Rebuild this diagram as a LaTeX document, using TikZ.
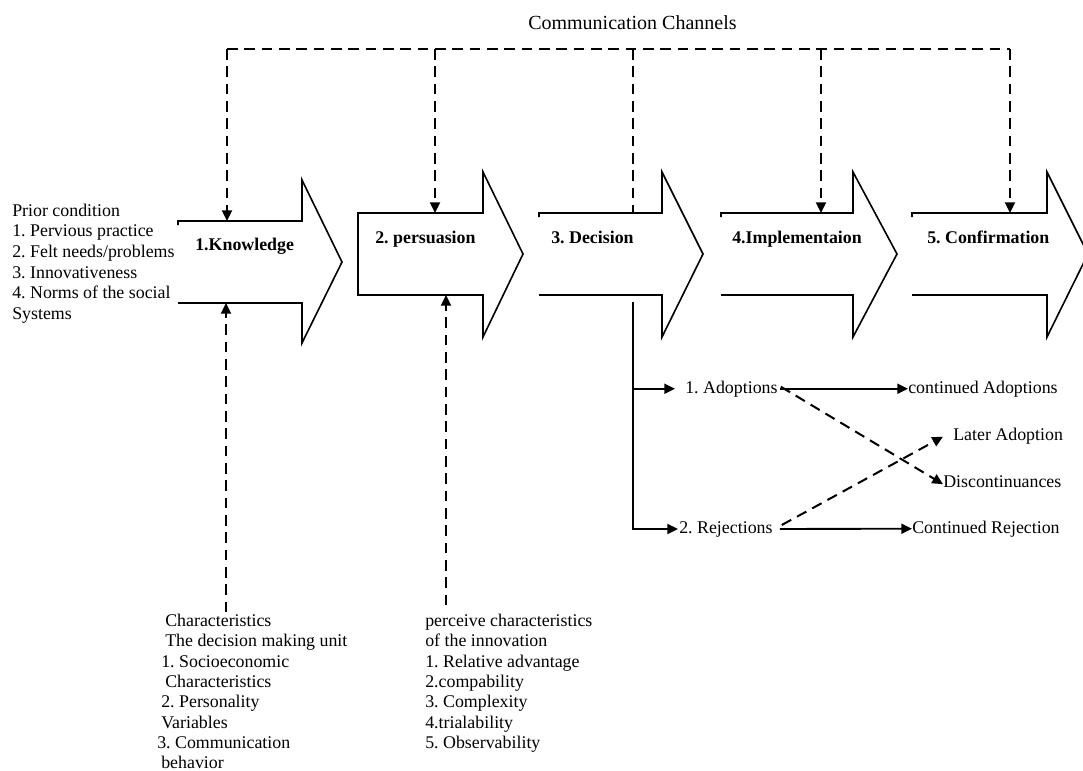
\documentclass[tikz,border=0pt]{standalone}
\usepackage{fontspec}
\setmainfont{Liberation Serif}
\usetikzlibrary{arrows.meta,calc}
\newcommand{\diagfs}{\fontsize{13.4}{16}\selectfont\frenchspacing}
\newcommand{\diagtitlefs}{\fontsize{15}{18}\selectfont}
\begin{document}
\frenchspacing
\begin{tikzpicture}[x=0.75pt,y=-0.75pt,
  stage/.style={line width=1.2pt, line join=miter},
  cdash/.style={line width=1.5pt, dash pattern=on 8pt off 5pt},
  tip/.style={-{Triangle[length=8pt,width=7.5pt]}},
  sol/.style={line width=1.4pt},
  txt/.style={anchor=base west, inner sep=0pt, font=\diagfs},
  lbl/.style={anchor=base west, inner sep=0pt, font=\diagfs\bfseries}]
\fill[white] (0,0) rectangle (1083,771);
\clip (0,0) rectangle (1083,771);

% stage arrows
\draw[stage] (178,225) -- (178,221) -- (302,221) -- (302,180) -- (342,262) -- (302,343) -- (302,303) -- (178,303);
\draw[stage] (358,213) -- (483,213) -- (483,172) -- (523,254) -- (483,337) -- (483,295) -- (358,295) -- cycle;
\draw[stage] (539,217) -- (539,213) -- (662,213) -- (662,172) -- (703,254) -- (662,337) -- (662,295) -- (539,295);
\draw[stage] (721,217) -- (721,213) -- (853,213) -- (853,172) -- (897,254) -- (853,337) -- (853,295) -- (721,295);
\draw[stage] (912,217) -- (912,213) -- (1047,213) -- (1047,172) -- (1088,254) -- (1047,337) -- (1047,295) -- (912,295);

\coordinate (k1t) at (227,221);
\coordinate (k1b) at (226,303);
\coordinate (p2t) at (435,213);
\coordinate (p2b) at (446,295);
\coordinate (d3t) at (633,213);
\coordinate (d3b) at (633,302);
\coordinate (i4t) at (821,213);
\coordinate (c5t) at (1010,213);
\coordinate (ccL) at (227,49);
\coordinate (ccR) at (1010,49);

% stage labels
\node[lbl] (kn) at (195,250) {1.Knowledge};
\node[lbl] (pe) at (375,243) {2. persuasion};
\node[lbl] (de) at (551,243) {3. Decision};
\node[lbl] (im) at (732,243) {4.Implementaion};
\node[lbl] (co) at (927,243) {5. Confirmation};

% communication channels
\node[anchor=base west, inner sep=0pt, font=\diagtitlefs] (cc) at (528,30) {Communication Channels};
\draw[cdash] (ccL) -- (ccR);
\draw[cdash,tip] (ccL) -- (k1t);
\draw[cdash,tip] (p2t |- ccL) -- (p2t);
\draw[cdash] (d3t |- ccL) -- (d3t);
\draw[cdash,tip] (i4t |- ccL) -- (i4t);
\draw[cdash,tip] (ccR) -- (c5t);

% prior conditions
\node[txt] (pc0) at (12,216) {Prior condition};
\node[txt] (pc1) at (12,236.5) {1. Pervious practice};
\node[txt] (pc2) at (12,257) {2. Felt needs/problems};
\node[txt] (pc3) at (12,278) {3. Innovativeness};
\node[txt] (pc4) at (12,298.5) {4. Norms of the social};
\node[txt] (pc5) at (12,319) {Systems};

% decision making unit characteristics
\node[txt] (ch1) at (165,626) {Characteristics};
\node[txt] (ch2) at (165,646) {The decision making unit};
\node[txt] (ch3) at (161,667) {1. Socioeconomic};
\node[txt] (ch4) at (165,687) {Characteristics};
\node[txt] (ch5) at (161,707) {2. Personality};
\node[txt] (ch6) at (161,728) {Variables};
\node[txt] (ch7) at (157,748) {3. Communication};
\node[txt] (ch8) at (161,768) {behavior};
\draw[cdash,tip] ($(k1b |- ch1.north)+(0,-1)$) -- (k1b);

% perceived characteristics
\node[txt] (in1) at (425,626) {perceive characteristics};
\node[txt] (in2) at (425,646) {of the innovation};
\node[txt] (in3) at (425,667) {1. Relative advantage};
\node[txt] (in4) at (425,687) {2.compability};
\node[txt] (in5) at (425,707) {3. Complexity};
\node[txt] (in6) at (425,728) {4.trialability};
\node[txt] (in7) at (425,748) {5. Observability};
\draw[cdash,tip] ($(p2b |- in1.north)+(0,-8)$) -- (p2b);

% decision outcomes
\node[txt] (adopt) at (685,393) {1. Adoptions};
\node[txt] (contad) at (908,393) {continued Adoptions};
\node[txt] (later) at (953,440) {Later Adoption};
\node[txt] (disc) at (943,487) {Discontinuances};
\node[txt] (reject) at (679,533) {2. Rejections};
\node[txt] (contrej) at (912,533) {Continued Rejection};

\draw[sol,tip] (d3b) |- ($(adopt.west)+(-10,0)$);
\draw[sol,tip] (d3b) |- ($(reject.west)+(-1,0)$);
\draw[sol,tip] ($(adopt.east)+(2,0)$) -- (contad.west);
\draw[sol,tip] ($(reject.east)+(7,0)$) -- (contrej.west);
\draw[cdash,tip] ($(adopt.east)+(3,-2)$) -- ($(disc.west)+(0,3)$);
\draw[cdash,tip] ($(reject.east)+(9,-4)$) -- ($(later.west)+(-10,1)$);
\end{tikzpicture}
\end{document}
